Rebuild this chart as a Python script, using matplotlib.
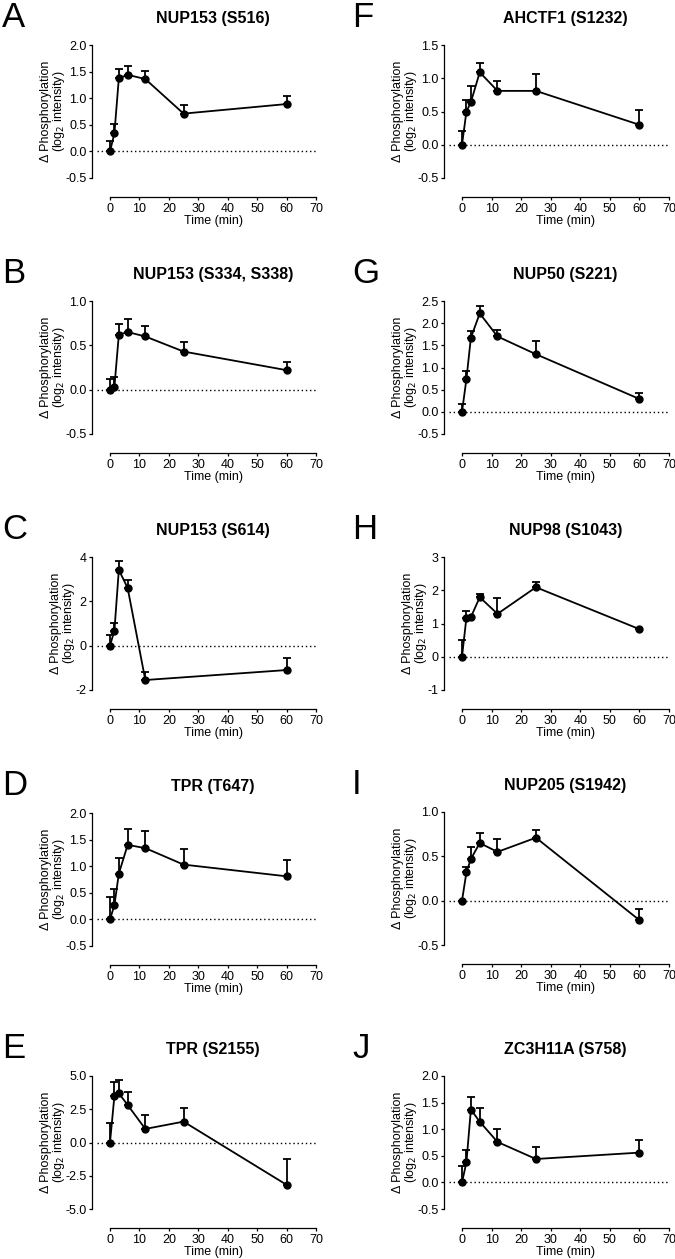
import matplotlib
matplotlib.use("Agg")
import matplotlib.pyplot as plt
import numpy as np

plt.rcParams["font.family"] = ["Liberation Sans", "DejaVu Sans"]
plt.rcParams["axes.unicode_minus"] = False

# time points (min)
time = [0, 1.5, 3, 6, 12, 25, 60]
time_c = [0, 1.5, 3, 6, 12, 60]

# mean and SEM (upper error bar) per phosphosite
nup153_s516 = [0, 0.34, 1.375, 1.44, 1.36, 0.71, 0.89]
nup153_s516_err = [0.2, 0.18, 0.165, 0.16, 0.16, 0.16, 0.15]

nup153_s334 = [0, 0.03, 0.62, 0.65, 0.60, 0.43, 0.22]
nup153_s334_err = [0.125, 0.11, 0.12, 0.15, 0.12, 0.11, 0.09]

nup153_s614 = [0, 0.68, 3.42, 2.6, -1.55, -1.1]
nup153_s614_err = [0.48, 0.36, 0.38, 0.35, 0.37, 0.53]

tpr_t647 = [0, 0.27, 0.86, 1.4, 1.34, 1.03, 0.81]
tpr_t647_err = [0.42, 0.31, 0.30, 0.29, 0.33, 0.30, 0.30]

tpr_s2155 = [0, 3.5, 3.7, 2.82, 1.02, 1.57, -3.18]
tpr_s2155_err = [1.45, 1.07, 1.0, 1.0, 1.03, 1.0, 1.93]

ahctf1_s1232 = [0, 0.5, 0.64, 1.09, 0.81, 0.81, 0.3]
ahctf1_s1232_err = [0.2, 0.17, 0.24, 0.14, 0.15, 0.25, 0.23]

nup50_s221 = [0, 0.74, 1.67, 2.22, 1.7, 1.3, 0.29]
nup50_s221_err = [0.17, 0.17, 0.15, 0.16, 0.14, 0.3, 0.13]

nup98_s1043 = [0, 1.18, 1.19, 1.79, 1.29, 2.09, 0.83]
nup98_s1043_err = [0.5, 0.21, 0.04, 0.09, 0.47, 0.17, 0.02]

nup205_s1942 = [0, 0.32, 0.47, 0.65, 0.55, 0.71, -0.22]
nup205_s1942_err = [0.0, 0.06, 0.13, 0.11, 0.14, 0.09, 0.13]

zc3h11a_s758 = [0, 0.38, 1.37, 1.14, 0.76, 0.44, 0.56]
zc3h11a_s758_err = [0.3, 0.22, 0.23, 0.26, 0.24, 0.23, 0.24]

panels = [
    # letter, title, x, y, err, yticks, tick format, column, row
    ("A", "NUP153 (S516)", time, nup153_s516, nup153_s516_err, [-0.5, 0, 0.5, 1.0, 1.5, 2.0], "%.1f", 0, 0),
    ("B", "NUP153 (S334, S338)", time, nup153_s334, nup153_s334_err, [-0.5, 0, 0.5, 1.0], "%.1f", 0, 1),
    ("C", "NUP153 (S614)", time_c, nup153_s614, nup153_s614_err, [-2, 0, 2, 4], "%d", 0, 2),
    ("D", "TPR (T647)", time, tpr_t647, tpr_t647_err, [-0.5, 0, 0.5, 1.0, 1.5, 2.0], "%.1f", 0, 3),
    ("E", "TPR (S2155)", time, tpr_s2155, tpr_s2155_err, [-5, -2.5, 0, 2.5, 5], "%.1f", 0, 4),
    ("F", "AHCTF1 (S1232)", time, ahctf1_s1232, ahctf1_s1232_err, [-0.5, 0, 0.5, 1.0, 1.5], "%.1f", 1, 0),
    ("G", "NUP50 (S221)", time, nup50_s221, nup50_s221_err, [-0.5, 0, 0.5, 1.0, 1.5, 2.0, 2.5], "%.1f", 1, 1),
    ("H", "NUP98 (S1043)", time, nup98_s1043, nup98_s1043_err, [-1, 0, 1, 2, 3], "%d", 1, 2),
    ("I", "NUP205 (S1942)", time, nup205_s1942, nup205_s1942_err, [-0.5, 0, 0.5, 1.0], "%.1f", 1, 3),
    ("J", "ZC3H11A (S758)", time, zc3h11a_s758, zc3h11a_s758_err, [-0.5, 0, 0.5, 1.0, 1.5, 2.0], "%.1f", 1, 4),
]

W, H = 675, 1259
fig = plt.figure(figsize=(W / 100, H / 100), dpi=100)

col_left = [110, 462]
col_width = [206, 207]
row_top = [[45, 301, 557, 813, 1076], [45, 301, 557, 812, 1076]]
ax_h = 133

for letter, title, t, y, err, yticks, fmt, col, row in panels:
    top = row_top[col][row]
    ax = fig.add_axes([col_left[col] / W, 1 - (top + ax_h) / H, col_width[col] / W, ax_h / H])
    ax.plot([-4.4, 70], [0, 0], linestyle=(0, (1, 2)), color="black", lw=1.0, clip_on=False)
    ax.errorbar(t, y, yerr=[np.zeros(len(err)), err], fmt="o-", color="black",
                markersize=5, lw=1.3, elinewidth=1.3, capsize=3, capthick=1.3,
                clip_on=False, zorder=3)
    ax.set_xlim(0, 70)
    ax.set_xticks(range(0, 71, 10))
    ax.set_ylim(yticks[0], yticks[-1])
    ax.set_yticks(yticks)
    ax.yaxis.set_major_formatter(matplotlib.ticker.FormatStrFormatter(fmt))
    for s in ["top", "right"]:
        ax.spines[s].set_visible(False)
    ax.spines["bottom"].set_position(("outward", 14))
    ax.spines["left"].set_position(("outward", 13))
    for s in ["bottom", "left"]:
        ax.spines[s].set_linewidth(0.9)
    ax.tick_params(direction="out", length=2.5, width=0.9, labelsize=9, pad=1.5)
    ax.set_xlabel("Time (min)", fontsize=9, labelpad=0)
    ax.set_ylabel("\u0394 Phosphorylation\n(log$_2$ intensity)", fontsize=9, labelpad=-1,
                  linespacing=0.9)
    ax.set_title(title, fontsize=11.5, fontweight="bold", pad=16)
    lx = 2 if col == 0 else 352
    fig.text(lx / W, 1 - (top - 44) / H, letter, fontsize=25, va="top", ha="left")

fig.savefig("out.png", dpi=100)
